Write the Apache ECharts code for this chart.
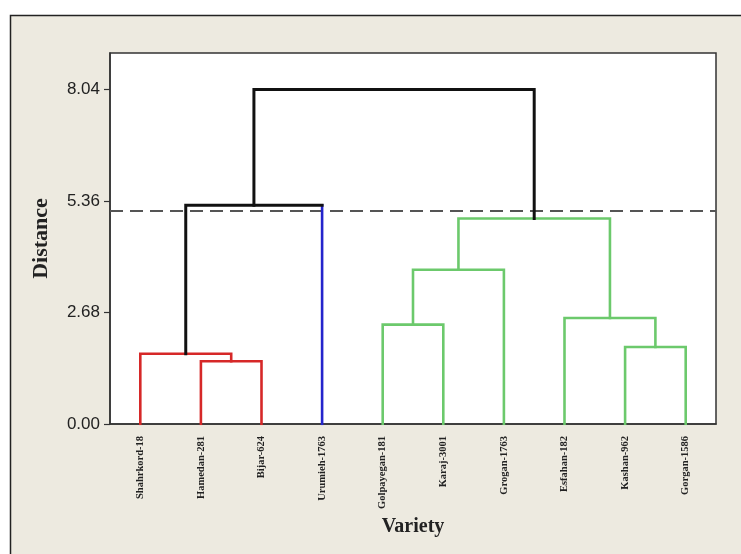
<!DOCTYPE html>
<html>
<head>
<meta charset="utf-8">
<script src="https://cdn.jsdelivr.net/npm/echarts@6/dist/echarts.min.js"></script>
<style>
html,body{margin:0;padding:0;background:#fff;}
#chart{width:741px;height:554px;}
</style>
</head>
<body>
<div id="chart"></div>
<script>
// ---- data ----
const varieties = ['Shahrkord-18','Hamedan-281','Bijar-624','Urumieh-1763','Golpayegan-181','Karaj-3001','Grogan-1763','Esfahan-182','Kashan-962','Gorgan-1586'];
// merges: node index = varieties.length + i
const mergeLeft   = [1, 0, 11, 4, 13, 8, 7, 14, 12];
const mergeRight  = [2, 10, 3, 5, 6, 9, 15, 16, 17];
const mergeHeight = [1.51, 1.69, 5.26, 2.39, 3.71, 1.85, 2.55, 4.94, 8.04];
// colour groups
const barGroup = ['red','red','black','green','green','green','green','green','black'];
const legGroup = ['red','red','red','blue','green','green','green','green','green','green',
                  'red','black','black','green','green','green','green','black'];
const cutHeight = [5.12];
const yTicks = [0, 2.68, 5.36, 8.04];

// ---- styles ----
const COLORS = {red:'#d62828', blue:'#2424cc', green:'#6cc96c', black:'#111111'};
const WIDTH = {red:2.6, blue:2.6, green:2.6, black:3};

const n = varieties.length;
const nodeX = [], nodeH = [];
for (let i = 0; i < n; i++) { nodeX.push(i + 1); nodeH.push(0); }
mergeHeight.forEach((h, m) => {
  nodeX.push((nodeX[mergeLeft[m]] + nodeX[mergeRight[m]]) / 2);
  nodeH.push(h);
});

const series = [];
function addPoly(points, group) {
  series.push({
    type: 'line', xAxisIndex: 1, yAxisIndex: 0,
    data: points, symbol: 'none', silent: true, animation: false,
    lineStyle: {color: COLORS[group], width: WIDTH[group], cap: 'square', join: 'miter'},
    z: group === 'black' ? 4 : 3
  });
}
mergeHeight.forEach((h, m) => {
  const l = mergeLeft[m], r = mergeRight[m];
  const pts = [[nodeX[l], nodeH[l]], [nodeX[l], h], [nodeX[r], h], [nodeX[r], nodeH[r]]];
  const groups = [legGroup[l], barGroup[m], legGroup[r]];
  let cur = [pts[0], pts[1]], curG = groups[0];
  for (let s = 1; s < 3; s++) {
    if (groups[s] === curG) { cur.push(pts[s + 1]); }
    else { addPoly(cur, curG); cur = [pts[s], pts[s + 1]]; curG = groups[s]; }
  }
  addPoly(cur, curG);
});
// dashed cut line
series.push({
  type: 'line', xAxisIndex: 1, yAxisIndex: 0, symbol: 'none', silent: true, animation: false,
  data: [[0.5, cutHeight[0]], [n + 0.5, cutHeight[0]]],
  lineStyle: {color: '#555', width: 2, type: [13, 7]}, z: 2
});

const chart = echarts.init(document.getElementById('chart'), null, {renderer: 'canvas'});
chart.setOption({
  backgroundColor: '#ffffff',
  animation: false,
  graphic: [{
    type: 'rect', z: -100, silent: true,
    shape: {x: 10.5, y: 15.5, width: 800, height: 700},
    style: {fill: '#edeae0', stroke: '#222', lineWidth: 1.5}
  }],
  grid: {left: 110, right: 25, top: 53, bottom: 130, show: true,
         backgroundColor: '#ffffff', borderColor: '#333', borderWidth: 1.5},
  xAxis: [{
    type: 'category', data: varieties, boundaryGap: true, position: 'bottom',
    name: 'Variety', nameLocation: 'middle', nameGap: 90,
    nameTextStyle: {fontFamily: 'Liberation Serif', fontWeight: 'bold', fontSize: 20, color: '#222'},
    axisLine: {lineStyle: {color: '#333', width: 1.5}},
    axisTick: {alignWithLabel: true, inside: false, length: 6, lineStyle: {color: '#333', width: 1.2}},
    axisLabel: {rotate: 90, margin: 12, interval: 0, fontFamily: 'Liberation Serif', fontWeight: 'bold', fontSize: 10.5, color: '#222'},
    splitLine: {show: false}
  }, {
    type: 'value', min: 0.5, max: n + 0.5, show: false, splitLine: {show: false}
  }],
  yAxis: [{
    type: 'value', min: 0, max: 8.92,
    name: 'Distance', nameLocation: 'middle', nameGap: 58,
    nameTextStyle: {fontFamily: 'Liberation Serif', fontWeight: 'bold', fontSize: 22, color: '#222'},
    axisLine: {show: true, lineStyle: {color: '#333', width: 1.5}},
    axisTick: {show: true, length: 6, customValues: yTicks, lineStyle: {color: '#333', width: 1.2}},
    axisLabel: {customValues: yTicks, formatter: v => Number(v).toFixed(2), margin: 10,
                fontFamily: 'Liberation Sans', fontSize: 17, color: '#222'},
    splitLine: {show: false}
  }],
  series: series
});
</script>
</body>
</html>
